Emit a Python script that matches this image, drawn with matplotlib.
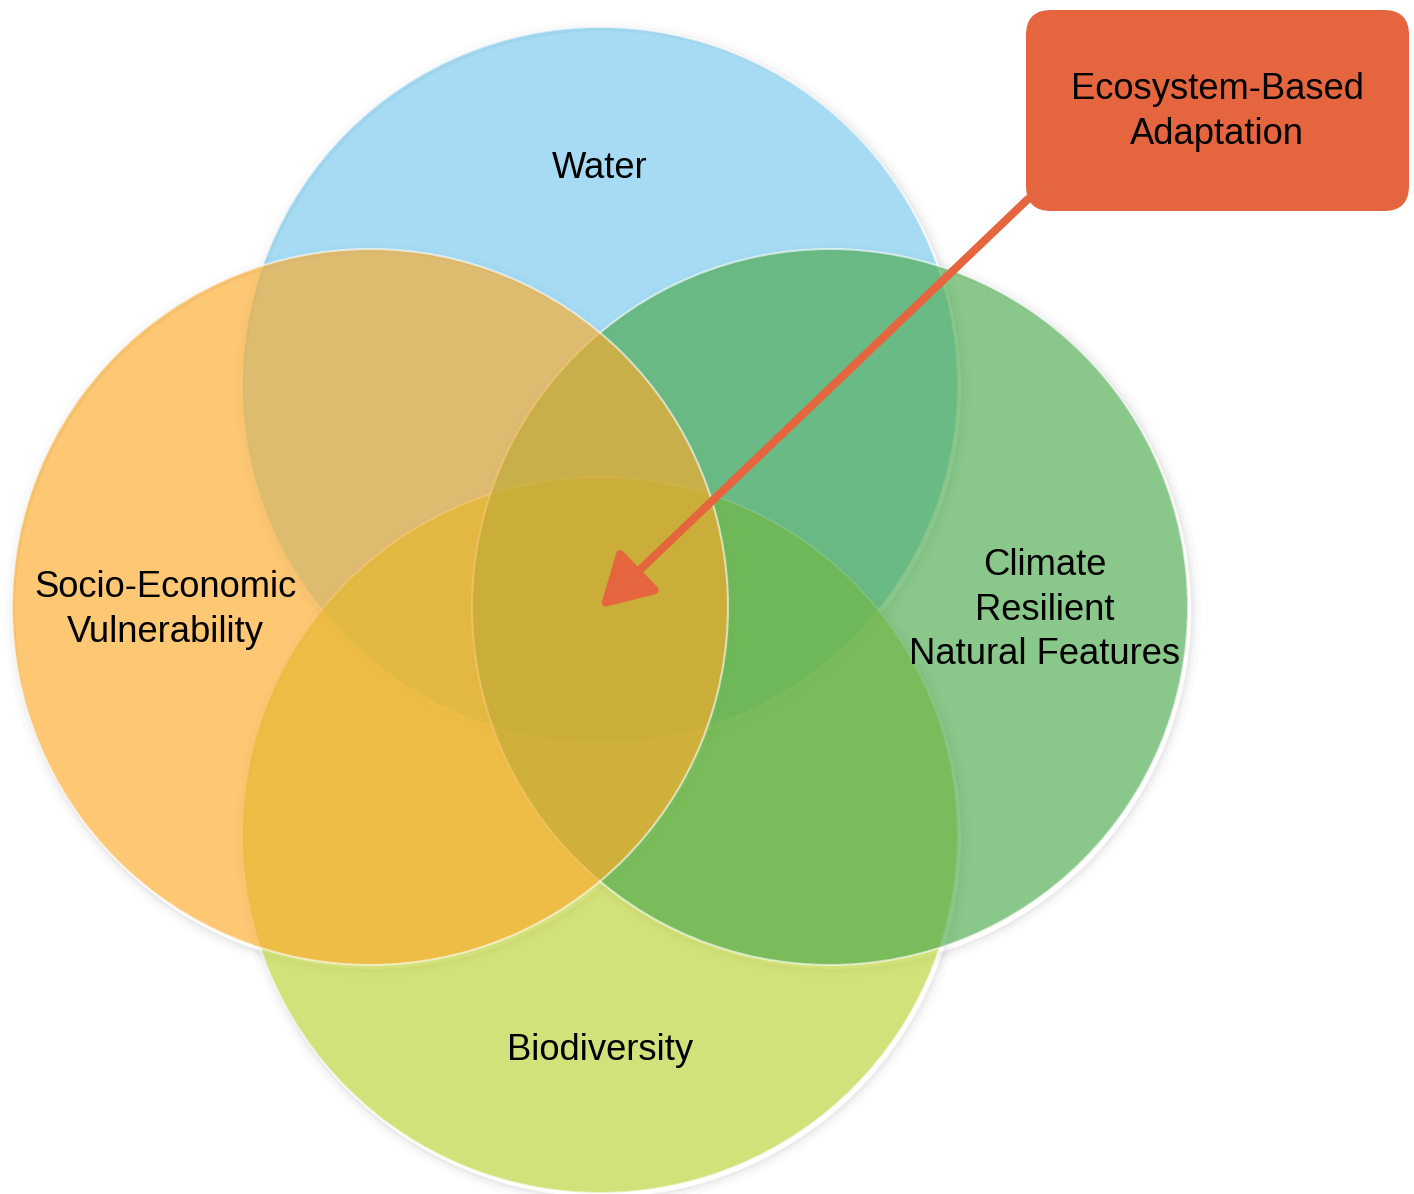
import matplotlib.pyplot as plt
from matplotlib.patches import Circle, FancyBboxPatch, FancyArrowPatch

plt.rcParams['font.family'] = ['Liberation Sans', 'DejaVu Sans']

# 集合の名前と色
sets = ['Water', 'Biodiversity', 'Climate\nResilient\nNatural Features',
        'Socio-Economic\nVulnerability']
set_colors = ['#76C8EE', '#BBD232', '#4BA94B', '#FCAA29']
focus = 'Ecosystem-Based\nAdaptation'

# 円の配置 (描画順: 下から)
cx = [600, 600, 830, 370]
cy = [385, 835, 607, 607]
r = 358
label_pos = [(600, 169), (600, 1051), (1045, 610), (165, 610)]

fig = plt.figure(figsize=(14.14, 11.94), dpi=100)
ax = fig.add_axes([0, 0, 1, 1])
ax.set_xlim(0, 1414)
ax.set_ylim(1194, 0)
ax.axis('off')

# うっすら影 (円の外側にリング状)
for x, y in zip(cx, cy):
    for k, a in [(10, 0.025), (6, 0.035), (3, 0.05)]:
        ax.add_patch(Circle((x + 3, y + 4), r + k / 2, facecolor='none', edgecolor='#555555',
                            lw=k * 0.72, alpha=a, zorder=1))

# 円
for x, y, c in zip(cx, cy, set_colors):
    ax.add_patch(Circle((x, y), r, facecolor=c, alpha=0.65, lw=0, zorder=2))
    ax.add_patch(Circle((x, y), r, facecolor='none', edgecolor='white', alpha=0.6, lw=1.5, zorder=2))

# ラベル
for name, (x, y) in zip(sets, label_pos):
    ax.text(x, y, name, ha='center', va='center', fontsize=26.2, linespacing=1.35, zorder=5)

# 吹き出しボックス
box_col = '#E5663E'
ax.add_patch(FancyBboxPatch((1051, 35), 333, 151, boxstyle='round,pad=25',
                            facecolor=box_col, edgecolor='none', zorder=6))
ax.text(1217, 112, focus, ha='center', va='center', fontsize=26.2, linespacing=1.35, zorder=7)

# 矢印
arr = FancyArrowPatch((1028, 199), (600, 608), arrowstyle='-|>,head_length=2.1,head_width=1.2',
                      mutation_scale=15, color=box_col, lw=5.8, shrinkA=0, shrinkB=0, zorder=6)
ax.add_patch(arr)

fig.savefig('out.png', dpi=100)
plt.close()
